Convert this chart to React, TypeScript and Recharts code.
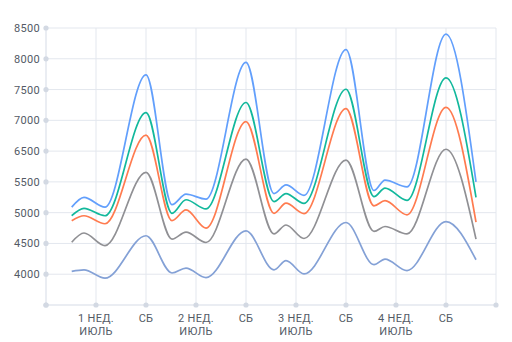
import React from 'react';
import { LineChart, Line, XAxis, YAxis, CartesianGrid } from 'recharts';

// x position of each reading, in days from the start of the axis
const DAYS = [1.8, 2.66, 4.13, 7, 8.82, 9.8, 11.2, 14, 15.96, 16.8, 18.06, 21, 22.96, 23.73, 25.27, 28, 30.1];

const BLUE = [5090, 5250, 5090, 7240, 5130, 5300, 5220, 7440, 5310, 5450, 5280, 7650, 5360, 5530, 5420, 7900, 5500];
const TEAL = [4950, 5070, 4950, 6625, 4990, 5210, 5060, 6790, 5180, 5310, 5150, 7005, 5260, 5400, 5200, 7190, 5250];
const ORANGE = [4870, 4950, 4820, 6260, 4870, 5045, 4750, 6480, 4990, 5155, 4985, 6690, 5110, 5195, 4965, 6710, 4845];
const GRAY = [4520, 4670, 4465, 5655, 4570, 4685, 4515, 5870, 4655, 4800, 4580, 5855, 4695, 4775, 4655, 6030, 4570];
const SLATE = [4045, 4070, 3935, 4625, 4020, 4100, 3945, 4705, 4070, 4220, 4005, 4840, 4155, 4245, 4060, 4855, 4235];

const X_TICKS = [0, 3.5, 7, 10.5, 14, 17.5, 21, 24.5, 28, 31.5];
const X_LABELS = [
  [],
  ['1 НЕД.', 'ИЮЛЬ'],
  ['СБ'],
  ['2 НЕД.', 'ИЮЛЬ'],
  ['СБ'],
  ['3 НЕД.', 'ИЮЛЬ'],
  ['СБ'],
  ['4 НЕД.', 'ИЮЛЬ'],
  ['СБ'],
  [],
];

const Y_TICKS = [3500, 4000, 4500, 5000, 5500, 6000, 6500, 7000, 7500, 8000];
const Y_LABELS = ['', '4000', '4500', '5000', '5500', '6500', '7000', '7500', '8000', '8500'];

const data = DAYS.map((day, i) => ({
  day,
  blue: BLUE[i],
  teal: TEAL[i],
  orange: ORANGE[i],
  gray: GRAY[i],
  slate: SLATE[i],
}));

const GRID = '#e3e7ee';
const DOT = '#d3d9e3';
const TEXT = '#535a65';
const FONT = 'Roboto, "Noto Sans", sans-serif';

const XTick = (props: any) => {
  const { x, y, index } = props;
  const lines = X_LABELS[index] || [];
  return (
    <g>
      <circle cx={x} cy={y} r={2.6} fill={DOT} />
      {lines.map((t: string, i: number) => (
        <text
          key={i}
          x={x}
          y={y + 17 + i * 13}
          textAnchor="middle"
          fontSize={11}
          letterSpacing={0.3}
          fontFamily={FONT}
          fill={TEXT}
        >
          {t}
        </text>
      ))}
    </g>
  );
};

const YTick = (props: any) => {
  const { x, y, index } = props;
  return (
    <g>
      <circle cx={x} cy={y} r={2.6} fill={DOT} />
      <text
        x={x - 6}
        y={y}
        dy="0.36em"
        textAnchor="end"
        fontSize={11}
        letterSpacing={0.3}
        fontFamily={FONT}
        fill={TEXT}
      >
        {Y_LABELS[index]}
      </text>
    </g>
  );
};

export default function App() {
  return (
    <div style={{ position: 'absolute', left: 0, top: 0, background: '#fff' }}>
      <LineChart width={512} height={342} data={data} margin={{ top: 28, right: 16, left: 0, bottom: 0 }}>
        <CartesianGrid stroke={GRID} strokeWidth={1} />
        <XAxis
          dataKey="day"
          type="number"
          domain={[0, 31.5]}
          ticks={X_TICKS}
          interval={0}
          height={37}
          tickSize={0}
          tickMargin={0}
          tickLine={false}
          axisLine={{ stroke: GRID }}
          tick={<XTick />}
        />
        <YAxis
          type="number"
          domain={[3500, 8000]}
          ticks={Y_TICKS}
          interval={0}
          width={46}
          tickSize={0}
          tickMargin={0}
          tickLine={false}
          axisLine={{ stroke: GRID }}
          tick={<YTick />}
        />
        <Line type="monotone" dataKey="slate" stroke="#84a1d6" strokeWidth={1.7} dot={false} isAnimationActive={false} />
        <Line type="monotone" dataKey="gray" stroke="#909094" strokeWidth={1.7} dot={false} isAnimationActive={false} />
        <Line type="monotone" dataKey="orange" stroke="#ff7b4f" strokeWidth={1.7} dot={false} isAnimationActive={false} />
        <Line type="monotone" dataKey="teal" stroke="#12b89c" strokeWidth={1.7} dot={false} isAnimationActive={false} />
        <Line type="monotone" dataKey="blue" stroke="#629ffc" strokeWidth={1.7} dot={false} isAnimationActive={false} />
      </LineChart>
    </div>
  );
}
